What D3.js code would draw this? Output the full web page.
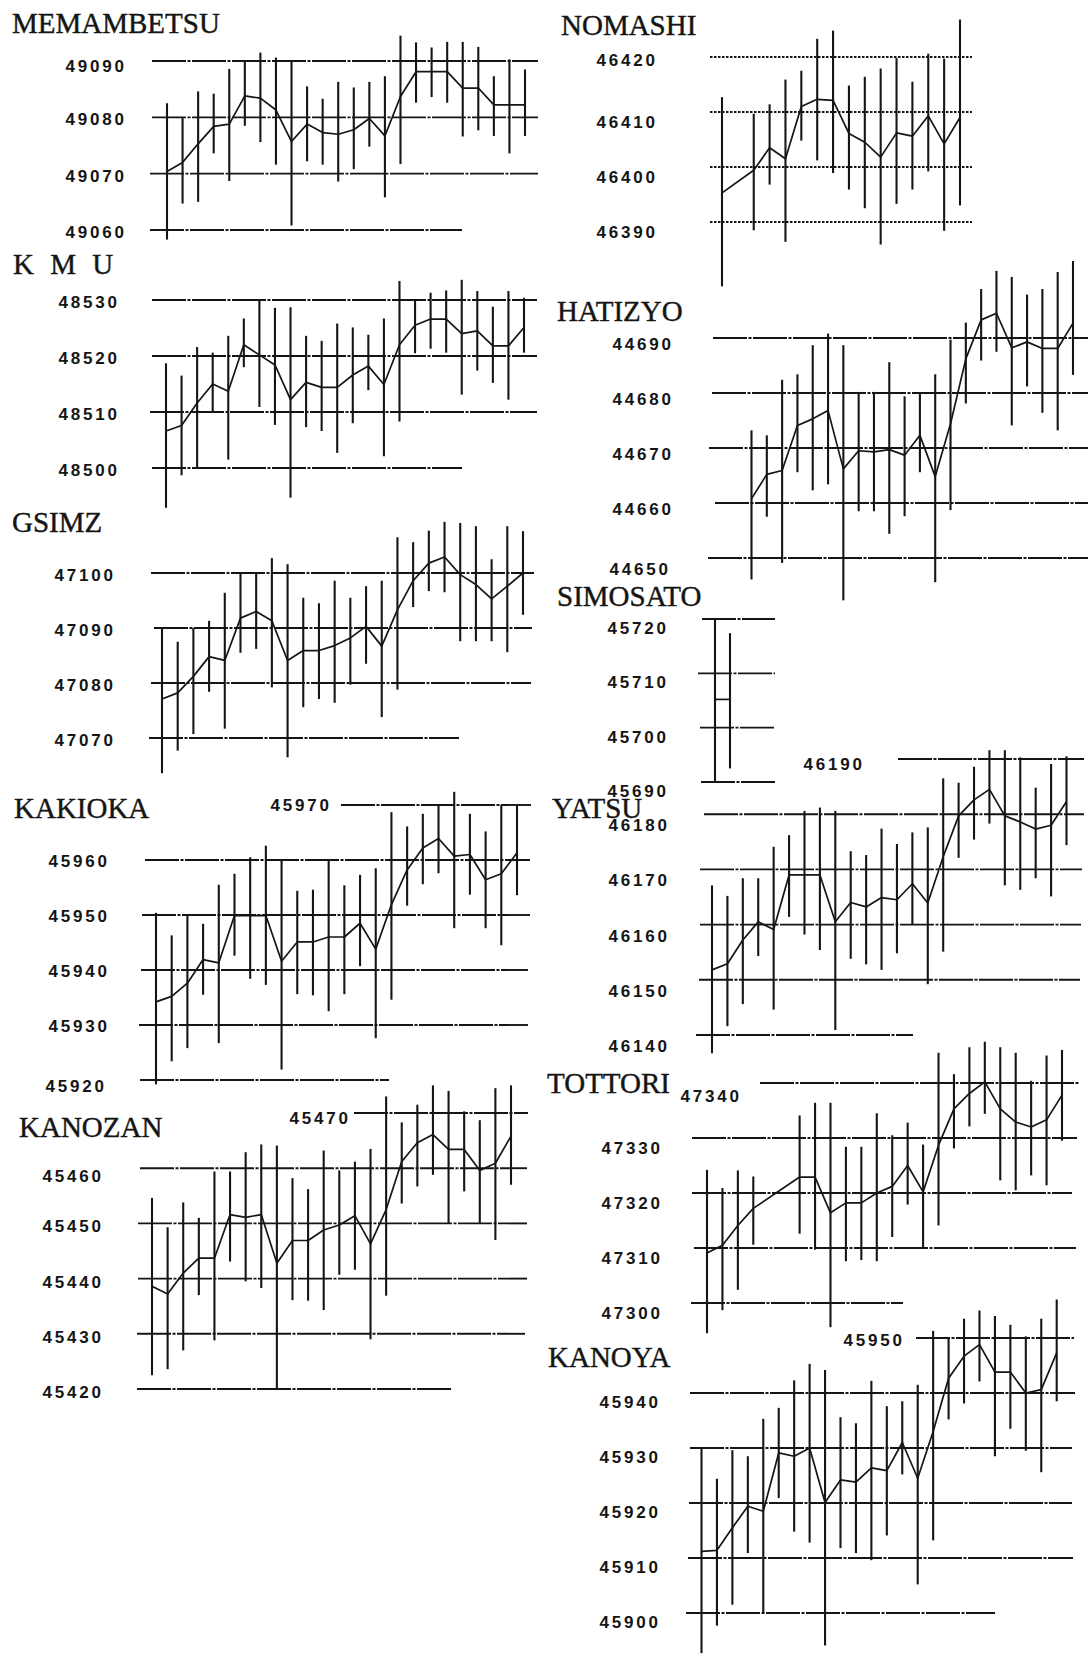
<!DOCTYPE html>
<html>
<head>
<meta charset="utf-8">
<script src="https://cdn.jsdelivr.net/npm/d3@7"></script>
<style>
  body { margin: 0; background: #fff; }
  svg { display: block; }
</style>
</head>
<body>
<svg id="chart"></svg>
<script>
// slot index along the time axis (shared by every station)
const slotsAll = [0,1,2,3,4,5,6,7,8,9,10,11,12,13,14,15,16,17,18,19,20,21,22,23];
const slotsNomashi = [0,2,3,4,5,6,7,8,9,10,11,12,13,14,15];
const slotsHatizyo = [2,3,4,5,6,7,8,9,10,11,12,13,14,15,16,17,18,19,20,21,22,23];
const slotsSimosato = [0,1];
const slotsTottori = [0,1,2,3,6,7,8,9,10,11,12,13,14,15,16,17,18,19,20,21,22,23];

// MEMAMBETSU
const memambetsuTicks = [49090, 49080, 49070, 49060];
const memambetsuHi = [49082.5,49080,49084.6,49084.2,49088.6,49090,49091.5,49090.6,49090,49085.5,49083.3,49086.3,49085.3,49086.3,49087.3,49094.5,49093.3,49092.4,49093.4,49093.4,49092.5,49087.3,49090.3,49088.5];
const memambetsuMean = [49070.4,49072,49075.3,49078.4,49078.8,49083.8,49083.4,49081.3,49075.7,49078.8,49077.3,49077,49077.8,49079.8,49076.7,49083.7,49088.1,49088.1,49088.1,49085.2,49085.2,49082.2,49082.2,49082.2];
const memambetsuLo = [49058.3,49064.7,49065,49073.6,49068.7,49078.5,49075.6,49071.6,49060.8,49072.2,49071.6,49068.6,49070.8,49074.8,49065.8,49071.7,49082.6,49083.6,49082.6,49076.6,49077.7,49076.7,49073.6,49076.7];

// KMU
const kmuTicks = [48530, 48520, 48510, 48500];
const kmuHi = [48518.7,48516.5,48521.6,48520.6,48523.6,48526.7,48530,48528.6,48528.7,48523.6,48522.7,48525.8,48525.1,48523.8,48526.7,48533.4,48530.1,48531.3,48531.7,48533.6,48531.6,48528.8,48531.6,48530.4];
const kmuMean = [48506.6,48507.6,48511.6,48515,48513.7,48522,48520.2,48518.4,48512.2,48515.3,48514.4,48514.4,48516.6,48518.2,48514.9,48522,48525.5,48526.6,48526.6,48524,48524.5,48521.8,48521.8,48525.1];
const kmuLo = [48492.9,48498.7,48500,48510,48501.5,48518,48510.9,48507.7,48494.7,48507.3,48506.6,48502.7,48508,48513.9,48502.1,48508.3,48520.5,48521.3,48520.6,48513.1,48517.4,48515.2,48512.2,48520.6];

// GSIMZ
const gsimzTicks = [47100, 47090, 47080, 47070];
const gsimzHi = [47090,47087.5,47090,47091.3,47096.4,47100,47100,47102.7,47101.6,47095.5,47094.5,47098.6,47095.5,47097.6,47098.6,47106.5,47105.6,47107.7,47109.3,47109.1,47108.5,47102.5,47108.5,47107.6];
const gsimzMean = [47077.1,47078.2,47081.2,47084.8,47084.1,47091.8,47093,47091.3,47084.1,47085.9,47085.9,47086.8,47088.2,47090.3,47086.7,47093.3,47098.6,47101.8,47102.9,47099.7,47097.9,47095.3,47097.6,47100];
const gsimzLo = [47063.6,47067.7,47070.7,47078.4,47071.7,47085.5,47086.2,47079.2,47066.5,47075.6,47077.1,47076.4,47079.7,47083.5,47073.8,47078.8,47093.8,47096.7,47096.5,47087.6,47087.6,47087.6,47085.6,47092.4];

// KAKIOKA
const kakiokaTicks = [45970, 45960, 45950, 45940, 45930, 45920];
const kakiokaHi = [45950.4,45946.3,45949.9,45948.4,45955.5,45957.5,45960.5,45962.6,45960,45954.4,45954.6,45960,45955.4,45957.3,45958.5,45968.7,45966.1,45968.4,45970,45972.4,45968.4,45965.2,45970,45970];
const kakiokaMean = [45934.2,45935.2,45937.6,45941.9,45941.3,45949.9,45949.9,45949.9,45941.6,45945.1,45945.1,45946,45946,45948.5,45943.8,45951.9,45958.2,45962.2,45963.9,45960.7,45961,45956.4,45957.5,45961.3];
const kakiokaLo = [45919.2,45923.4,45925.8,45935.5,45926.7,45942.6,45938.4,45937.3,45921.9,45935.6,45935.4,45932.5,45935.6,45940.7,45927.6,45934.6,45951.7,45955.6,45957.6,45947.6,45953.7,45947.6,45944.5,45953.6];

// KANOZAN
const kanozanTicks = [45470, 45460, 45450, 45440, 45430, 45420];
const kanozanHi = [45454.6,45449.3,45453.8,45451,45459.4,45459.4,45462.9,45464.3,45464.1,45458.2,45456.2,45463.2,45459.6,45461.2,45463.5,45473,45468.3,45471.5,45475,45474,45470.3,45468.7,45474.5,45475];
const kanozanMean = [45438.6,45437.2,45441,45443.7,45443.7,45451.6,45451.1,45451.6,45442.8,45446.9,45446.9,45448.8,45449.7,45451.4,45446.3,45452.5,45461.2,45464.6,45466.1,45463.4,45463.4,45459.6,45460.9,45465.8];
const kanozanLo = [45422.5,45423.6,45427,45437,45428.8,45443.1,45439.5,45438.3,45420,45436.1,45436,45434.3,45440.7,45441.6,45429,45436.9,45453.6,45456.7,45458.8,45449.9,45455.8,45450,45447,45457];

// NOMASHI
const nomashiTicks = [46420, 46410, 46400, 46390];
const nomashiHi = [46412.7,46409.7,46411.4,46415.9,46417.5,46423.3,46424.8,46414.8,46416.4,46417.9,46419.8,46415.5,46420.6,46419.7,46426.8];
const nomashiMean = [46395.3,46399.4,46403.5,46401.5,46411,46412.3,46412.1,46406.1,46404.5,46401.8,46406.2,46405.6,46409.3,46404.2,46409];
const nomashiLo = [46378.3,46388.5,46396.8,46386.4,46404.8,46401.2,46398.9,46395.9,46392.5,46385.9,46393.3,46395.9,46399.2,46388.4,46393];

// HATIZYO
const hatizyoTicks = [44690, 44680, 44670, 44660, 44650];
const hatizyoHi = [44673.2,44672.3,44682.4,44683.4,44688.7,44690.8,44688.7,44680.2,44680.2,44685.6,44679.4,44680.2,44683.4,44689.7,44692.8,44698.9,44702.2,44701.1,44697.9,44698.9,44702,44704];
const hatizyoMean = [44660.8,44665.2,44665.9,44674.1,44675.3,44676.8,44666.2,44669.5,44669.3,44669.7,44668.7,44672.3,44664.8,44674.4,44686.2,44693.3,44694.5,44688.2,44689.3,44688.1,44688.1,44692.7];
const hatizyoLo = [44646.1,44657.5,44649.1,44665.6,44662.3,44663.4,44642.3,44658.5,44658.5,44654.4,44657.6,44665.6,44645.6,44658.7,44678.1,44685.9,44687.5,44674.1,44681.2,44676.4,44673.2,44683.3];

// SIMOSATO
const simosatoTicks = [45720, 45710, 45700, 45690];
const simosatoHi = [45719.9, 45717.4];
const simosatoMean = [45705.2, 45705.2];
const simosatoLo = [45690, 45692.5];

// YATSU
const yatsuTicks = [46190, 46180, 46170, 46160, 46150, 46140];
const yatsuHi = [46167.1,46165.2,46168.4,46168.4,46174.1,46176.2,46180.6,46181.2,46180.6,46173.3,46172.6,46177.4,46174.6,46176.7,46177.6,46186.5,46185.7,46188.6,46191.6,46191.6,46190.3,46184.8,46189.1,46190.5];
const yatsuMean = [46151.8,46152.9,46157.2,46160.5,46159.1,46169,46169,46169,46160.5,46164,46163.2,46164.9,46164.5,46167.4,46163.9,46172.3,46179.7,46182.6,46184.5,46179.7,46178.6,46177.3,46178,46182.3];
const yatsuLo = [46136.7,46141.6,46145.6,46154.3,46144.6,46161.4,46158.2,46155.4,46140.9,46153.8,46152.8,46151.8,46154.8,46160.1,46149.2,46155.1,46172.1,46175.4,46178.3,46167.1,46166.3,46168.4,46165.1,46174.4];

// TOTTORI
const tottoriTicks = [47340, 47330, 47320, 47310, 47300];
const tottoriHi = [47324.2,47320.9,47324.1,47323,47334.1,47336.4,47336.4,47328.4,47328.4,47334.5,47330.5,47332.8,47328.8,47345.5,47341.6,47346.5,47347.5,47346.5,47345.5,47340.4,47345,47346];
const tottoriMean = [47309.1,47310.5,47314.1,47317.2,47322.9,47322.9,47316.4,47318.2,47318.2,47320,47321.2,47325,47320.2,47328.7,47335.3,47338.1,47340.2,47335.3,47332.9,47332,47333.3,47337.8];
const tottoriLo = [47294.5,47298.7,47302.4,47310.6,47312.6,47309.7,47295.6,47307.6,47307.8,47307.6,47312,47317.9,47310,47314.1,47328.1,47332.1,47334.4,47322.3,47320.5,47323.2,47321.4,47329.5];

// KANOYA
const kanoyaTicks = [45950, 45940, 45930, 45920, 45910, 45900];
const kanoyaHi = [45930,45924.4,45929.6,45928.5,45935.3,45937.3,45942.3,45945.3,45944.2,45935.6,45934.5,45942.2,45937.6,45938.5,45941.5,45951.3,45950,45953.5,45955,45954,45952.4,45950.3,45953.5,45957];
const kanoyaMean = [45911.2,45911.4,45915.5,45919.4,45918.5,45929.1,45928.5,45930,45920.1,45924.2,45923.8,45926.4,45925.9,45931,45924.5,45933,45942.7,45946.7,45948.8,45943.8,45943.8,45940,45940.6,45947.3];
const kanoyaLo = [45892.7,45897.7,45901.5,45910.9,45899.9,45920.9,45914.8,45912.8,45894.1,45911.8,45910.9,45909.6,45914.1,45925.2,45905.2,45913.2,45935.2,45938.1,45942.1,45928.5,45933.5,45929.5,45925.6,45938.5];

// panel layout (pixels). grid: [x start, x end] per tick, same order as ticks.
// special: tick labels drawn somewhere else than the left column
const panels = [
  { name: "MEMAMBETSU", slots: slotsAll, ticks: memambetsuTicks, hi: memambetsuHi, mean: memambetsuMean, lo: memambetsuLo,
    title: [12, 33], yPx: [61, 230], xPx: [167, 525], labelX: 124, labelDy: 2,
    grid: [[152,538],[152,538],[150,538],[150,462]],
    special: { 49090: [124, 5] } },
  { name: "K M U", spacing: 4.5, slots: slotsAll, ticks: kmuTicks, hi: kmuHi, mean: kmuMean, lo: kmuLo,
    title: [13, 274], yPx: [300, 468], xPx: [166, 524], labelX: 117, labelDy: 2,
    grid: [[152,537],[152,537],[150,537],[152,462]] },
  { name: "GSIMZ", slots: slotsAll, ticks: gsimzTicks, hi: gsimzHi, mean: gsimzMean, lo: gsimzLo,
    title: [12, 532], yPx: [573, 738], xPx: [162, 523], labelX: 113, labelDy: 2,
    grid: [[151,534],[154,532],[151,531],[149,459]] },
  { name: "KAKIOKA", slots: slotsAll, ticks: kakiokaTicks, hi: kakiokaHi, mean: kakiokaMean, lo: kakiokaLo,
    title: [14, 818], yPx: [805, 1080], xPx: [156, 517], labelX: 107, labelDy: 1,
    grid: [[341,531],[145,530],[142,530],[141,528],[139,528],[140,389]],
    special: { 45970: [329, 0], 45920: [104, 6] } },
  { name: "KANOZAN", slots: slotsAll, ticks: kanozanTicks, hi: kanozanHi, mean: kanozanMean, lo: kanozanLo,
    title: [19, 1137], yPx: [1113, 1389], xPx: [152, 511], labelX: 101, labelDy: 3,
    grid: [[354,528],[140,527],[138,527],[138,527],[137,525],[137,452]],
    special: { 45470: [348, 5], 45460: [101, 8] } },
  { name: "NOMASHI", slots: slotsNomashi, ticks: nomashiTicks, hi: nomashiHi, mean: nomashiMean, lo: nomashiLo,
    title: [561, 35], yPx: [57, 222], xPx: [722, 960], labelX: 655, labelDy: 10, dotted: true,
    grid: [[710,972],[710,972],[710,972],[710,972]],
    special: { 46420: [655, 3] } },
  { name: "HATIZYO", slots: slotsHatizyo, ticks: hatizyoTicks, hi: hatizyoHi, mean: hatizyoMean, lo: hatizyoLo,
    title: [557, 321], yPx: [338, 558], xPx: [751.5, 1073], labelX: 671, labelDy: 6,
    grid: [[713,1088],[712,1088],[709,1088],[715,1088],[708,1088]],
    special: { 44650: [668, 11] } },
  { name: "SIMOSATO", slots: slotsSimosato, ticks: simosatoTicks, hi: simosatoHi, mean: simosatoMean, lo: simosatoLo,
    title: [557, 606], yPx: [619, 782], xPx: [715, 730], labelX: 666, labelDy: 9,
    grid: [[702,775],[698,775],[700,775],[701,775]] },
  { name: "YATSU", slots: slotsAll, ticks: yatsuTicks, hi: yatsuHi, mean: yatsuMean, lo: yatsuLo,
    title: [552, 818], yPx: [759, 1035], xPx: [712, 1066.5], labelX: 667, labelDy: 11,
    grid: [[898,1084],[704,1084],[700,1082],[700,1081],[699,1080],[696,913]],
    special: { 46190: [862, 5] } },
  { name: "TOTTORI", slots: slotsTottori, ticks: tottoriTicks, hi: tottoriHi, mean: tottoriMean, lo: tottoriLo,
    title: [547, 1093], yPx: [1083, 1303], xPx: [707, 1062], labelX: 660, labelDy: 10,
    grid: [[760,1079],[692,1077],[692,1072],[694,1076],[691,903]],
    special: { 47340: [739, 13] } },
  { name: "KANOYA", slots: slotsAll, ticks: kanoyaTicks, hi: kanoyaHi, mean: kanoyaMean, lo: kanoyaLo,
    title: [548, 1367], yPx: [1338, 1613], xPx: [701.5, 1056.7], labelX: 658, labelDy: 9,
    grid: [[916,1074],[690,1075],[690,1072],[689,1072],[688,1073],[686,995]],
    special: { 45950: [902, 2] } }
];

const width = 1089, height = 1656;
const ink = "#151515";
const labelSpacing = 2.8;

const svg = d3.select("#chart")
  .attr("width", width)
  .attr("height", height)
  .style("background", "#fff");

panels.forEach(p => {
  const g = svg.append("g");
  const slots = p.slots;

  // scales: first/last tick -> pixel rows, first/last slot -> pixel columns
  const y = d3.scaleLinear()
    .domain([p.ticks[0], p.ticks[p.ticks.length - 1]])
    .range(p.yPx);
  const x = d3.scaleLinear()
    .domain([slots[0], slots[slots.length - 1]])
    .range(p.xPx);

  // horizontal reference lines
  g.selectAll("line.grid")
    .data(p.ticks)
    .enter().append("line")
      .attr("class", "grid")
      .attr("x1", (d, i) => p.grid[i][0])
      .attr("x2", (d, i) => p.grid[i][1])
      .attr("y1", d => y(d))
      .attr("y2", d => y(d))
      .attr("stroke", ink)
      .attr("stroke-width", p.dotted ? 2 : 1.9)
      .attr("stroke-dasharray", p.dotted ? "2.5,1.5" : "34,1.5,3,1.5");

  // tick labels
  g.selectAll("text.tick")
    .data(p.ticks)
    .enter().append("text")
      .attr("class", "tick")
      .attr("x", d => (p.special && p.special[d] ? p.special[d][0] : p.labelX) + labelSpacing)
      .attr("y", d => y(d) + (p.special && p.special[d] ? p.special[d][1] : p.labelDy) + 6)
      .attr("text-anchor", "end")
      .attr("font-family", "'Liberation Sans', Arial, sans-serif")
      .attr("font-weight", "bold")
      .attr("font-size", 17)
      .attr("letter-spacing", labelSpacing)
      .attr("fill", ink)
      .text(d => d);

  // station name
  g.append("text")
    .attr("x", p.title[0])
    .attr("y", p.title[1])
    .attr("font-family", "'Liberation Serif', 'Times New Roman', serif")
    .attr("font-size", 29)
    .attr("letter-spacing", p.spacing || 0)
    .attr("fill", ink)
    .attr("stroke", ink)
    .attr("stroke-width", 0.4)
    .text(p.name);

  // range bars
  g.selectAll("line.bar")
    .data(slots)
    .enter().append("line")
      .attr("class", "bar")
      .attr("x1", d => x(d))
      .attr("x2", d => x(d))
      .attr("y1", (d, i) => y(p.hi[i]))
      .attr("y2", (d, i) => y(p.lo[i]))
      .attr("stroke", ink)
      .attr("stroke-width", 2.1);

  // mean curve
  const line = d3.line()
    .x(d => x(d[0]))
    .y(d => y(d[1]));
  g.append("path")
    .datum(slots.map((s, i) => [s, p.mean[i]]))
    .attr("d", line)
    .attr("fill", "none")
    .attr("stroke", ink)
    .attr("stroke-width", 1.7)
    .attr("stroke-linejoin", "round");
});
</script>
</body>
</html>
